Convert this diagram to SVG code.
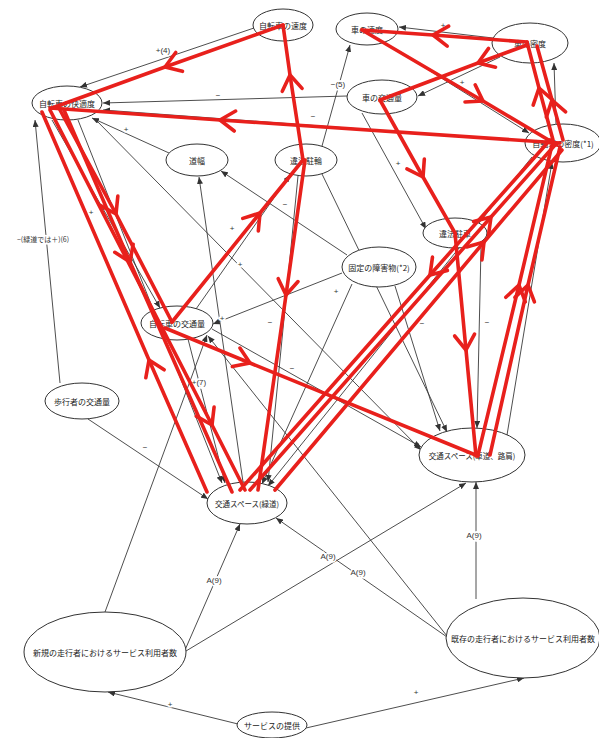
<svg xmlns="http://www.w3.org/2000/svg" width="599" height="738" viewBox="0 0 599 738">
<style>
.n ellipse{fill:#fff;stroke:#333;stroke-width:1}
.n text{font-family:"Noto Sans CJK JP","Noto Sans",sans-serif;font-size:8px;fill:#222;text-anchor:middle;dominant-baseline:central}
.n text.s{font-size:7.5px}
#connectors path{stroke:#3a3a3a;stroke-width:0.9;fill:none;marker-end:url(#ah)}
.lbl{font-family:"Liberation Sans","Noto Sans CJK JP",sans-serif;font-size:8px;fill:#333;text-anchor:middle;dominant-baseline:central;stroke:#fff;stroke-width:3;paint-order:stroke}
.lbl.j{font-family:"Noto Sans CJK JP",sans-serif;font-size:7px}
#loops path{stroke:#e8201c;stroke-width:3.6;fill:none;stroke-linecap:round;stroke-linejoin:round;marker-mid:url(#chev)}
</style>
<defs>
<marker id="ah" markerUnits="userSpaceOnUse" markerWidth="8" markerHeight="6" refX="7" refY="3" orient="auto"><path d="M0,0 L7,3 L0,6 z" fill="#333"/></marker>
<marker id="chev" markerUnits="userSpaceOnUse" markerWidth="36" markerHeight="36" viewBox="-18 -18 36 36" refX="0" refY="0" orient="auto"><path d="M-15,-10 L0,0 L-15,10" fill="none" stroke="#e8201c" stroke-width="3.6" stroke-linecap="round" stroke-linejoin="round"/></marker>
</defs>
<rect width="599" height="738" fill="#fff"/>
<g id="connectors">
<path d="M254,28 L80,87"/>
<path d="M347,96 L103,103"/>
<path d="M525,141 L103,110"/>
<path d="M169,153 L92,118"/>
<path d="M322,146 L350,45"/>
<path d="M493,38 L399,27"/>
<path d="M500,57 L418,96"/>
<path d="M384,42 L529,133"/>
<path d="M556,124 L554,63"/>
<path d="M362,113 L426,229"/>
<path d="M481,248 L477,428"/>
<path d="M507,435 L552,162"/>
<path d="M60,383 L35,120"/>
<path d="M88,419 L208,499"/>
<path d="M105,612 L207,335"/>
<path d="M185,650 L240,524"/>
<path d="M186,651 L466,483"/>
<path d="M447,637 L276,518"/>
<path d="M447,636 L208,336"/>
<path d="M476,599 L476,482"/>
<path d="M238,724 L108,692"/>
<path d="M306,728 L524,678"/>
<path d="M243,482 L199,177"/>
<path d="M347,255 L221,171"/>
<path d="M95,119 L421,450"/>
<path d="M52,120 L160,308"/>
<path d="M78,120 L222,483"/>
<path d="M188,339 L225,483"/>
<path d="M298,176 L268,482"/>
<path d="M352,284 L262,484"/>
<path d="M532,157 L268,486"/>
<path d="M212,329 L421,447"/>
<path d="M196,309 L290,175"/>
<path d="M395,286 L440,431"/>
<path d="M322,174 L447,432"/>
<path d="M342,273 L213,324"/>
</g>
<g id="labels">
<text class="lbl" x="163" y="50">+(4)</text>
<text class="lbl" x="218" y="95">−</text>
<text class="lbl" x="313" y="116">−</text>
<text class="lbl" x="126" y="129">+</text>
<text class="lbl" x="338" y="84">−(5)</text>
<text class="lbl" x="443" y="25">+</text>
<text class="lbl" x="462" y="82">+</text>
<text class="lbl" x="398" y="163">+</text>
<text class="lbl" x="487" y="322">−</text>
<text class="lbl j" x="43" y="239">−(緑道では＋)(6)</text>
<text class="lbl" x="145" y="447">−</text>
<text class="lbl" x="199" y="382">+(7)</text>
<text class="lbl" x="214" y="580">A(9)</text>
<text class="lbl" x="328" y="556">A(9)</text>
<text class="lbl" x="358" y="572">A(9)</text>
<text class="lbl" x="474" y="535">A(9)</text>
<text class="lbl" x="170" y="704">+</text>
<text class="lbl" x="416" y="692">+</text>
<text class="lbl" x="285" y="204">−</text>
<text class="lbl" x="240" y="264">+</text>
<text class="lbl" x="91" y="212">+</text>
<text class="lbl" x="270" y="322">−</text>
<text class="lbl" x="336" y="291">+</text>
<text class="lbl" x="292" y="368">−</text>
<text class="lbl" x="232" y="228">+</text>
<text class="lbl" x="422" y="323">−</text>
<text class="lbl" x="222" y="318">+</text>
</g>
<g id="n-bike-speed" class="n"><ellipse cx="283" cy="25" rx="30" ry="16"/><text x="283" y="25">自転車の速度</text></g>
<g id="n-car-speed" class="n"><ellipse cx="367" cy="29" rx="31" ry="16"/><text x="367" y="29">車の速度</text></g>
<g id="n-car-density" class="n"><ellipse cx="530" cy="43" rx="38" ry="20"/><text x="530" y="43">車の密度</text></g>
<g id="n-car-volume" class="n"><ellipse cx="382" cy="97" rx="35" ry="17"/><text x="382" y="97">車の交通量</text></g>
<g id="n-bike-comfort" class="n"><ellipse cx="67" cy="103" rx="35" ry="17"/><text x="67" y="103">自転車の快適度</text></g>
<g id="n-bike-density" class="n"><ellipse cx="563" cy="143" rx="38" ry="19"/><text x="563" y="143">自転車の密度(*1)</text></g>
<g id="n-road-width" class="n"><ellipse cx="197" cy="160" rx="31" ry="16"/><text x="197" y="160">道幅</text></g>
<g id="n-illegal-bike" class="n"><ellipse cx="306" cy="160" rx="31" ry="16"/><text x="306" y="160">違法駐輪</text></g>
<g id="n-illegal-car" class="n"><ellipse cx="455" cy="233" rx="32" ry="15"/><text x="455" y="233">違法駐車</text></g>
<g id="n-obstacle" class="n"><ellipse cx="379" cy="267" rx="37" ry="20"/><text x="379" y="267">固定の障害物(*2)</text></g>
<g id="n-bike-volume" class="n"><ellipse cx="177" cy="323" rx="36" ry="17"/><text x="177" y="323">自転車の交通量</text></g>
<g id="n-ped-volume" class="n"><ellipse cx="82" cy="401" rx="37" ry="18"/><text x="82" y="401">歩行者の交通量</text></g>
<g id="n-space-road" class="n"><ellipse cx="472" cy="455" rx="53" ry="27"/><text class="s" x="472" y="455">交通スペース(車道、路肩)</text></g>
<g id="n-space-green" class="n"><ellipse cx="247" cy="503" rx="40" ry="21"/><text class="s" x="247" y="503">交通スペース(緑道)</text></g>
<g id="n-new-users" class="n"><ellipse cx="105" cy="652" rx="81" ry="40"/><text x="105" y="652">新規の走行者におけるサービス利用者数</text></g>
<g id="n-existing-users" class="n"><ellipse cx="523" cy="638" rx="77" ry="40"/><text x="523" y="638">既存の走行者におけるサービス利用者数</text></g>
<g id="n-service" class="n"><ellipse cx="272" cy="725" rx="35" ry="13"/><text x="272" y="725">サービスの提供</text></g>
<g id="loops">
<path d="M283,25 L165,67 L52,108"/>
<path d="M560,143 L220,120 L50,108"/>
<path d="M60,110 L116,214 L172,322"/>
<path d="M64,110 L130,262 L232,492"/>
<path d="M50,110 L212,425 L245,490"/>
<path d="M207,492 L149,360 L42,112"/>
<path d="M172,322 L260,213 L303,160"/>
<path d="M303,160 L290,75 L283,25"/>
<path d="M305,160 L286,295 L258,490"/>
<path d="M165,328 L250,363 L478,456"/>
<path d="M478,455 L519,285 L552,145"/>
<path d="M490,455 L528,285 L560,147"/>
<path d="M250,490 L491,217 L555,145"/>
<path d="M275,490 L484,242 L562,150"/>
<path d="M550,140 L430,275 L240,490"/>
<path d="M553,140 L539,88 L527,42"/>
<path d="M563,140 L552,100 L537,46"/>
<path d="M527,42 L433,35 L362,30"/>
<path d="M527,45 L478,63 L380,100"/>
<path d="M362,30 L483,101 L557,145"/>
<path d="M380,100 L423,177 L455,233"/>
<path d="M455,233 L466,350 L476,456"/>
</g>
</svg>
